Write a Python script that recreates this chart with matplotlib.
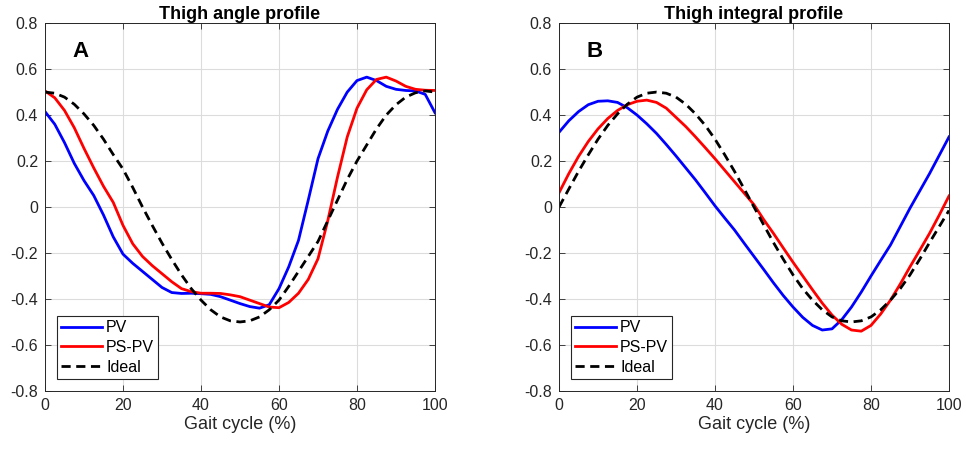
import numpy as np
import matplotlib
matplotlib.use("Agg")
import matplotlib.pyplot as plt

plt.rcParams['font.family'] = ['Liberation Sans', 'DejaVu Sans']

# ---- panel A: thigh angle profile ----
xa = [0, 2.5, 5, 7.5, 10, 12.5, 15, 17.5, 20, 22.5, 25, 27.5, 30, 32.5, 35, 37.5,
      40, 42.5, 45, 47.5, 50, 52.5, 55, 57.5, 60, 62.5, 65, 67.5, 70, 72.5, 75,
      77.5, 80, 82.5, 85, 87.5, 90, 92.5, 95, 97.5, 100]
a_pv = [0.415, 0.36, 0.28, 0.19, 0.115, 0.05, -0.035, -0.13, -0.205, -0.245, -0.28,
        -0.315, -0.35, -0.372, -0.376, -0.375, -0.377, -0.38, -0.39, -0.405, -0.42,
        -0.433, -0.44, -0.425, -0.355, -0.26, -0.145, 0.03, 0.21, 0.33, 0.425, 0.5,
        0.55, 0.565, 0.55, 0.525, 0.512, 0.507, 0.505, 0.49, 0.41]
a_pspv = [0.505, 0.475, 0.42, 0.345, 0.255, 0.17, 0.09, 0.02, -0.08, -0.16, -0.215,
          -0.255, -0.29, -0.325, -0.355, -0.368, -0.375, -0.375, -0.376, -0.382, -0.39,
          -0.405, -0.42, -0.435, -0.438, -0.415, -0.375, -0.315, -0.225, -0.06, 0.13,
          0.305, 0.43, 0.51, 0.555, 0.565, 0.548, 0.525, 0.512, 0.508, 0.507]
a_ideal = [0.5, 0.495, 0.478, 0.447, 0.405, 0.355, 0.295, 0.228, 0.165, 0.085, 0.0,
           -0.08, -0.157, -0.228, -0.295, -0.355, -0.405, -0.447, -0.478, -0.495, -0.5,
           -0.495, -0.478, -0.447, -0.405, -0.345, -0.28, -0.215, -0.15, -0.06, 0.03,
           0.12, 0.2, 0.27, 0.34, 0.4, 0.445, 0.478, 0.497, 0.505, 0.5]

# ---- panel B: thigh integral profile ----
xb = [0, 2.5, 5, 7.5, 10, 12.5, 15, 17.5, 20, 22.5, 25, 27.5, 30, 32.5, 35, 37.5,
      40, 42.5, 45, 47.5, 50, 52.5, 55, 57.5, 60, 62.5, 65, 67.5, 70, 72.5, 75,
      77.5, 80, 82.5, 85, 87.5, 90, 92.5, 95, 97.5, 100]
b_pv = [0.325, 0.375, 0.415, 0.445, 0.46, 0.462, 0.455, 0.432, 0.4, 0.362, 0.32,
        0.272, 0.222, 0.17, 0.118, 0.062, 0.005, -0.048, -0.1, -0.158, -0.215,
        -0.272, -0.33, -0.385, -0.435, -0.48, -0.515, -0.535, -0.53, -0.49, -0.435,
        -0.37, -0.3, -0.232, -0.165, -0.085, -0.005, 0.07, 0.145, 0.225, 0.305]
b_pspv = [0.062, 0.145, 0.22, 0.285, 0.34, 0.385, 0.42, 0.445, 0.46, 0.465, 0.455,
          0.43, 0.39, 0.35, 0.305, 0.258, 0.21, 0.16, 0.11, 0.06, 0.01, -0.055,
          -0.115, -0.178, -0.24, -0.3, -0.36, -0.418, -0.47, -0.51, -0.535, -0.54,
          -0.515, -0.465, -0.405, -0.335, -0.26, -0.188, -0.115, -0.035, 0.048]
b_ideal = [0.0, 0.078, 0.155, 0.227, 0.295, 0.355, 0.405, 0.447, 0.478, 0.495, 0.5,
           0.495, 0.478, 0.447, 0.405, 0.355, 0.295, 0.227, 0.155, 0.078, 0.0,
           -0.078, -0.155, -0.227, -0.295, -0.355, -0.405, -0.447, -0.478, -0.495,
           -0.5, -0.495, -0.478, -0.447, -0.405, -0.355, -0.295, -0.227, -0.155,
           -0.085, -0.015]

titles = ["Thigh angle profile", "Thigh integral profile"]
letters = ["A", "B"]


def draw_panel(ax, x, pv, pspv, ideal, title, letter):
    ax.plot(x, pv, color=(0, 0, 1), linewidth=2.0, label="PV")
    ax.plot(x, pspv, color=(1, 0, 0), linewidth=2.0, label="PS-PV")
    ax.plot(x, ideal, color="black", linewidth=2.0, linestyle=(0, (3.3, 2.0)), label="Ideal")
    ax.set_xlim(0, 100)
    ax.set_ylim(-0.8, 0.8)
    ax.set_xticks(np.arange(0, 101, 20))
    ax.set_yticks(np.arange(-0.8, 0.81, 0.2))
    ax.set_yticklabels(["-0.8", "-0.6", "-0.4", "-0.2", "0", "0.2", "0.4", "0.6", "0.8"])
    ax.grid(True, color="#dcdcdc", linewidth=0.8)
    ax.set_axisbelow(True)
    ax.tick_params(direction="in", top=True, right=True, length=4, width=0.6,
                   colors="#262626", labelsize=11.5, pad=5)
    for s in ax.spines.values():
        s.set_color("#262626")
        s.set_linewidth(0.7)
    ax.set_title(title, fontsize=13, fontweight="bold", pad=3)
    ax.set_xlabel("Gait cycle (%)", fontsize=13, color="#262626", labelpad=2)
    ax.text(9, 0.675, letter, fontsize=16, fontweight="bold", ha="center", va="center")
    leg = ax.legend(loc="lower left", bbox_to_anchor=(0.03, 0.033), fontsize=11.5,
                    handlelength=2.6, handletextpad=0.25, borderaxespad=0,
                    labelspacing=0.3, borderpad=0.25, fancybox=False, framealpha=1)
    leg.get_frame().set_edgecolor("#262626")
    leg.get_frame().set_linewidth(0.8)


fig = plt.figure(figsize=(9.66, 4.53), dpi=100)
ax1 = fig.add_axes([0.0466, 0.137, 0.4037, 0.812])
ax2 = fig.add_axes([0.5787, 0.137, 0.4037, 0.812])

draw_panel(ax1, xa, a_pv, a_pspv, a_ideal, titles[0], letters[0])
draw_panel(ax2, xb, b_pv, b_pspv, b_ideal, titles[1], letters[1])

fig.savefig("out.png", dpi=100)
